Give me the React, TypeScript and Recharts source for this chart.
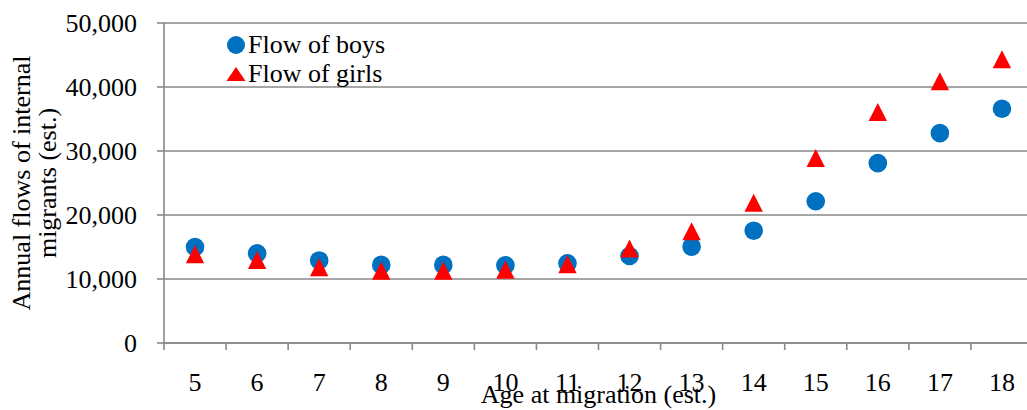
import React from 'react'
import { CartesianGrid, ComposedChart, Legend, Line, XAxis, YAxis } from 'recharts'

const ages = [5, 6, 7, 8, 9, 10, 11, 12, 13, 14, 15, 16, 17, 18]
const boysFlow = [15000, 14000, 12900, 12200, 12200, 12150, 12450, 13600, 15050, 17550, 22150, 28100, 32800, 36600]
const girlsFlow = [13850, 12950, 11850, 11300, 11300, 11450, 12300, 14750, 17450, 21900, 28900, 36100, 40900, 44350]
const yTicks = [0, 10000, 20000, 30000, 40000, 50000]

const data = ages.map((a, i) => ({ age: String(a), boys: boysFlow[i], girls: girlsFlow[i] }))

const font = "'Liberation Serif', 'Times New Roman', serif"
const FS = 26
const BLUE = '#0070C0'
const RED = '#FF0000'
const GRID = '#898989'

const BoyDot = (props: any) => {
  if (props.cx == null || props.cy == null) return null
  return <circle key={props.key} cx={props.cx} cy={props.cy} r={9.3} fill={BLUE} />
}

const GirlDot = (props: any) => {
  if (props.cx == null || props.cy == null) return null
  const { cx, cy } = props
  return <polygon key={props.key} points={`${cx},${cy - 9} ${cx - 9.2},${cy + 9} ${cx + 9.2},${cy + 9}`} fill={RED} />
}

// category label at band centre, tick mark on the band's left edge (Excel style)
const AgeTick = (props: any) => {
  const { x, y, payload, width, visibleTicksCount } = props
  const bw = width && visibleTicksCount ? width / visibleTicksCount : 62
  const ex = x - bw / 2
  return (
    <g>
      <line x1={ex} y1={y} x2={ex} y2={y + 7} stroke={GRID} strokeWidth={1.6} />
      <text x={x} y={y + 47.5} textAnchor="middle" fontFamily={font} fontSize={FS} fill="#000">
        {payload.value}
      </text>
    </g>
  )
}

// two-line rotated y axis title
const YTitle = (props: any) => {
  const vb = props.viewBox || { x: 0, y: 23, width: 164, height: 320 }
  const cy = vb.y + vb.height / 2
  return (
    <text transform={`translate(30, ${cy}) rotate(-90)`} textAnchor="middle" fontFamily={font} fontSize={FS} fill="#000">
      <tspan x={0} y={0}>Annual flows of internal</tspan>
      <tspan x={0} y={26}>migrants (est.)</tspan>
    </text>
  )
}

const LegendBox = () => (
  <div style={{ fontFamily: font, fontSize: FS, color: '#000', lineHeight: '29px' }}>
    <div style={{ display: 'flex', alignItems: 'center', height: 29 }}>
      <svg width={20} height={20} style={{ marginRight: 2 }}>
        <circle cx={10} cy={10} r={9} fill={BLUE} />
      </svg>
      <span>Flow of boys</span>
    </div>
    <div style={{ display: 'flex', alignItems: 'center', height: 29 }}>
      <svg width={20} height={20} style={{ marginRight: 2 }}>
        <polygon points="10,3 0.5,17 19.5,17" fill={RED} />
      </svg>
      <span>Flow of girls</span>
    </div>
  </div>
)

export default function App() {
  return (
    <div style={{ position: 'absolute', left: 0, top: 0, background: '#fff' }}>
      <ComposedChart width={1027} height={410} data={data} margin={{ top: 23, right: -6, left: 0, bottom: 0 }}>
        <CartesianGrid vertical={false} stroke={GRID} strokeWidth={1.6} />
        <XAxis
          dataKey="age"
          type="category"
          scale="band"
          height={67}
          stroke={GRID}
          strokeWidth={1.6}
          tickLine={false}
          tickSize={0}
          tickMargin={0}
          interval={0}
          tick={<AgeTick />}
          label={{ value: 'Age at migration (est.)', position: 'insideBottom', offset: 7, fill: '#000', fontSize: FS, fontFamily: font }}
        />
        <YAxis
          width={164}
          domain={[0, 50000]}
          ticks={yTicks}
          interval={0}
          tickSize={7}
          tickMargin={20}
          stroke={GRID}
          strokeWidth={1.6}
          tickFormatter={(v: number) => v.toLocaleString('en-US')}
          tick={{ fill: '#000', fontSize: FS, fontFamily: font }}
          label={<YTitle />}
        />
        <Legend
          layout="vertical"
          align="center"
          verticalAlign="middle"
          content={<LegendBox />}
          wrapperStyle={{ top: 30, left: 226, width: 'auto', height: 'auto' }}
        />
        <Line dataKey="boys" stroke="none" dot={<BoyDot />} activeDot={false} isAnimationActive={false} />
        <Line dataKey="girls" stroke="none" dot={<GirlDot />} activeDot={false} isAnimationActive={false} />
      </ComposedChart>
    </div>
  )
}
